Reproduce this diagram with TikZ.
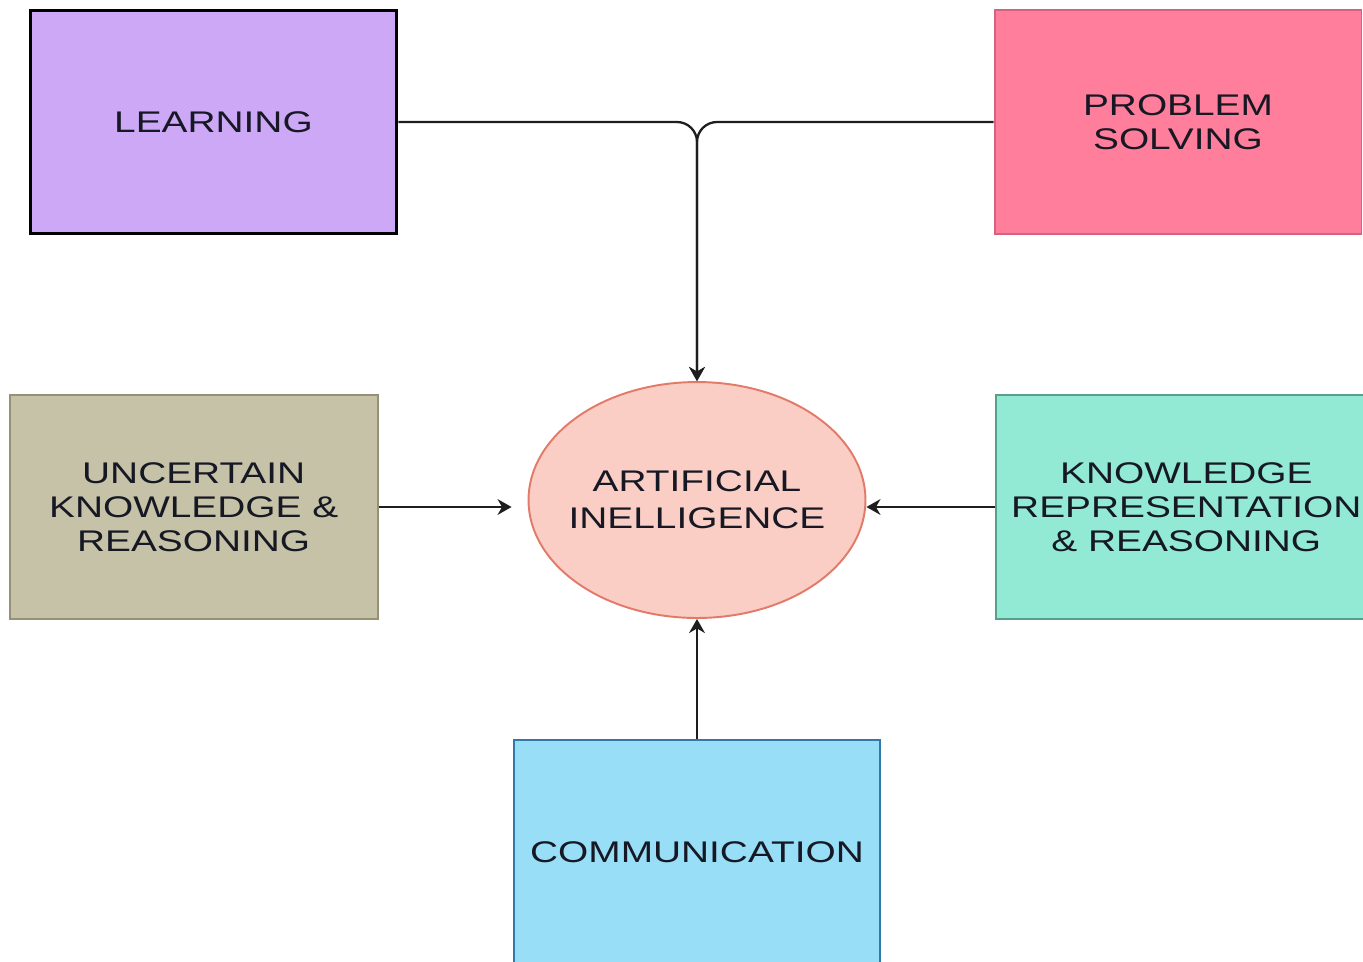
\documentclass[tikz,border=0pt]{standalone}
\usepackage{fontspec}
\setmainfont{Liberation Sans}[FakeStretch=1.3]
\usetikzlibrary{shapes.geometric, arrows.meta, positioning}
\definecolor{colLearn}{RGB}{204,168,246}
\definecolor{colProb}{RGB}{255,126,156}
\definecolor{colProbBorder}{RGB}{214,98,128}
\definecolor{colUnc}{RGB}{198,194,168}
\definecolor{colUncBorder}{RGB}{150,145,118}
\definecolor{colKnow}{RGB}{146,234,212}
\definecolor{colKnowBorder}{RGB}{88,160,140}
\definecolor{colComm}{RGB}{153,222,247}
\definecolor{colCommBorder}{RGB}{52,120,168}
\definecolor{colAI}{RGB}{250,206,196}
\definecolor{colAIBorder}{RGB}{226,122,106}
\definecolor{colText}{RGB}{22,24,36}
\definecolor{colArrow}{RGB}{30,30,30}
\newcommand{\boxfont}{\fontsize{17}{19.5}\selectfont}
\tikzset{
  box/.style={
    rectangle, line width=1.1pt,
    text centered, align=center, font=\boxfont, text=colText,
    inner sep=2pt, minimum width=7.34cm, minimum height=4.48cm
  },
  learnBox/.style={box, fill=colLearn, draw=black, line width=1.7pt},
  probBox/.style={box, fill=colProb, draw=colProbBorder},
  uncBox/.style={box, fill=colUnc, draw=colUncBorder, minimum width=7.36cm},
  knowBox/.style={box, fill=colKnow, draw=colKnowBorder, minimum width=7.6cm},
  commBox/.style={box, fill=colComm, draw=colCommBorder, minimum width=7.32cm},
  aiNode/.style={
    ellipse, fill=colAI, draw=colAIBorder, line width=1.1pt,
    minimum width=6.74cm, minimum height=4.72cm,
    align=center, font=\fontsize{17}{21}\selectfont, text=colText,
    inner xsep=-6pt, inner ysep=0pt
  },
  arr/.style={
    -{Stealth[length=8pt, width=9pt]}, line width=1.3pt, color=colArrow
  }
}
\begin{document}
\begin{tikzpicture}[x=0.02cm, y=-0.02cm]
  \useasboundingbox (0,0) rectangle (1363,961);
  \clip (0,0) rectangle (1363,961);

  \node[aiNode] (ai) at (697,500) {ARTIFICIAL\\INELLIGENCE};
  \node[learnBox] (learning) at (213.5,122) {LEARNING};
  \node[probBox] (problem) at (1178,122) {PROBLEM\\SOLVING};
  \node[uncBox, left=2.98cm of ai.west, anchor=east, yshift=-0.14cm] (uncertain) {UNCERTAIN\\KNOWLEDGE \&\\REASONING};
  \node[knowBox, right=2.58cm of ai.east, anchor=west, yshift=-0.14cm] (knowledge) {KNOWLEDGE\\REPRESENTATION\\\& REASONING};
  \node[commBox, below=2.4cm of ai.south, anchor=north] (comm) {COMMUNICATION};

  % learning and problem solving merge into one arrow
  \draw[arr, rounded corners=0.4cm] (learning.east) -| (ai.north);
  \draw[arr, rounded corners=0.4cm] (problem.west) -| (ai.north);

  % uncertain knowledge -> ai
  \draw[arr, line width=1pt, shorten >=0.32cm] (uncertain.east) -- (uncertain.east -| ai.west);

  % knowledge representation -> ai
  \draw[arr, line width=1pt] (knowledge.west) -- (knowledge.west -| ai.east);

  % communication -> ai
  \draw[arr] (comm.north) -- (ai.south);

\end{tikzpicture}
\end{document}
